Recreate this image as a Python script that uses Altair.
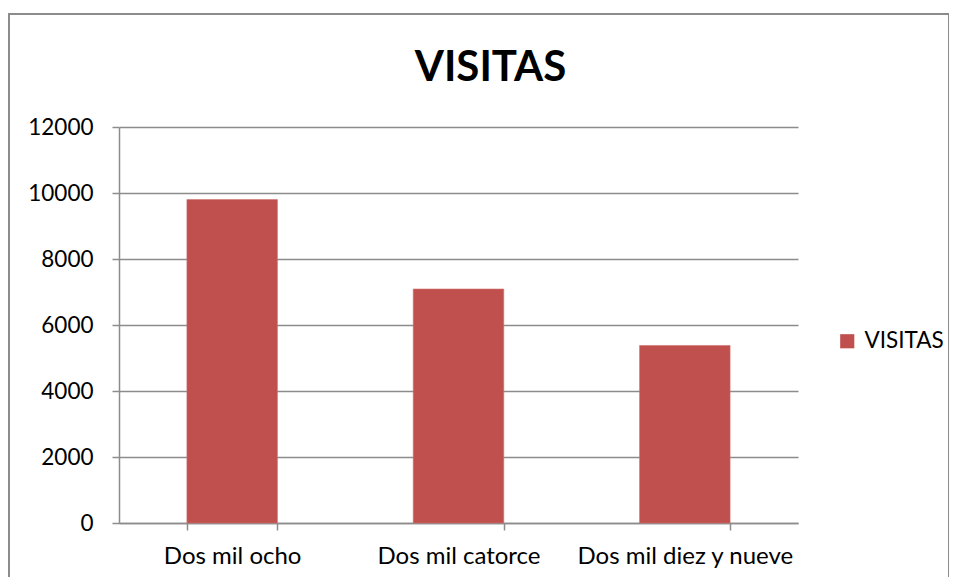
import altair as alt
import pandas as pd

categories = ["Dos mil ocho", "Dos mil catorce", "Dos mil diez y nueve"]
visitas = [9800, 7090, 5380]
series = ["VISITAS"] * 3

df = pd.DataFrame({"categoria": categories, "visitas": visitas, "serie": series})

W, H = 679, 396
FONT = "Lato"
GRID = "#8c8c8c"

bars = alt.Chart(df).mark_bar(color="#C0504D", stroke="#d07070", strokeWidth=0.6).encode(
    x=alt.X("categoria:N", sort=categories, title=None,
            scale=alt.Scale(paddingInner=0.6, paddingOuter=0.3),
            axis=alt.Axis(labelAngle=0, tickBand="extent", tickSize=7, tickColor=GRID,
                          domainColor=GRID, domainWidth=1.5, tickWidth=1.5,
                          labelFont=FONT, labelFontSize=24, labelColor="#000000",
                          labelPadding=14, labelLimit=400, grid=False)),
    y=alt.Y("visitas:Q", title=None,
            scale=alt.Scale(domain=[0, 12000]),
            axis=alt.Axis(values=list(range(0, 12001, 2000)), tickSize=7, tickColor=GRID,
                          domainColor=GRID, domainWidth=1.5, tickWidth=1.5,
                          gridColor=GRID, gridWidth=1.5, labelFont=FONT, labelFontSize=22.5,
                          labelColor="#000000", labelPadding=19, format="d")),
    fill=alt.Fill("serie:N", scale=alt.Scale(range=["#C0504D"]),
                  legend=alt.Legend(title=None, orient="none", legendX=717, legendY=203,
                                    symbolType="square", symbolSize=200, symbolStrokeWidth=0,
                                    labelFont=FONT, labelFontSize=22.5, labelColor="#000000",
                                    labelOffset=6)),
)

frame_df = pd.DataFrame({"k": [0]})
frame = alt.Chart(frame_df).mark_rect(fill=None, stroke="#8c8c8c", strokeWidth=2, clip=False).encode(
    x=alt.value(-110), x2=alt.value(830), y=alt.value(-113), y2=alt.value(520)
)

chart = alt.layer(frame, bars).properties(
    width=W, height=H,
    title=alt.Title("VISITAS", font=FONT, fontSize=42, fontWeight="bold", color="#000000",
                    anchor="middle", dx=32, offset=-77),
    autosize=alt.AutoSizeParams(type="none"),
    padding={"left": 111, "top": 119, "right": 151, "bottom": 54},
).configure_view(stroke=None)

chart.save("out.html", embed_options={"renderer": "svg", "actions": False})
